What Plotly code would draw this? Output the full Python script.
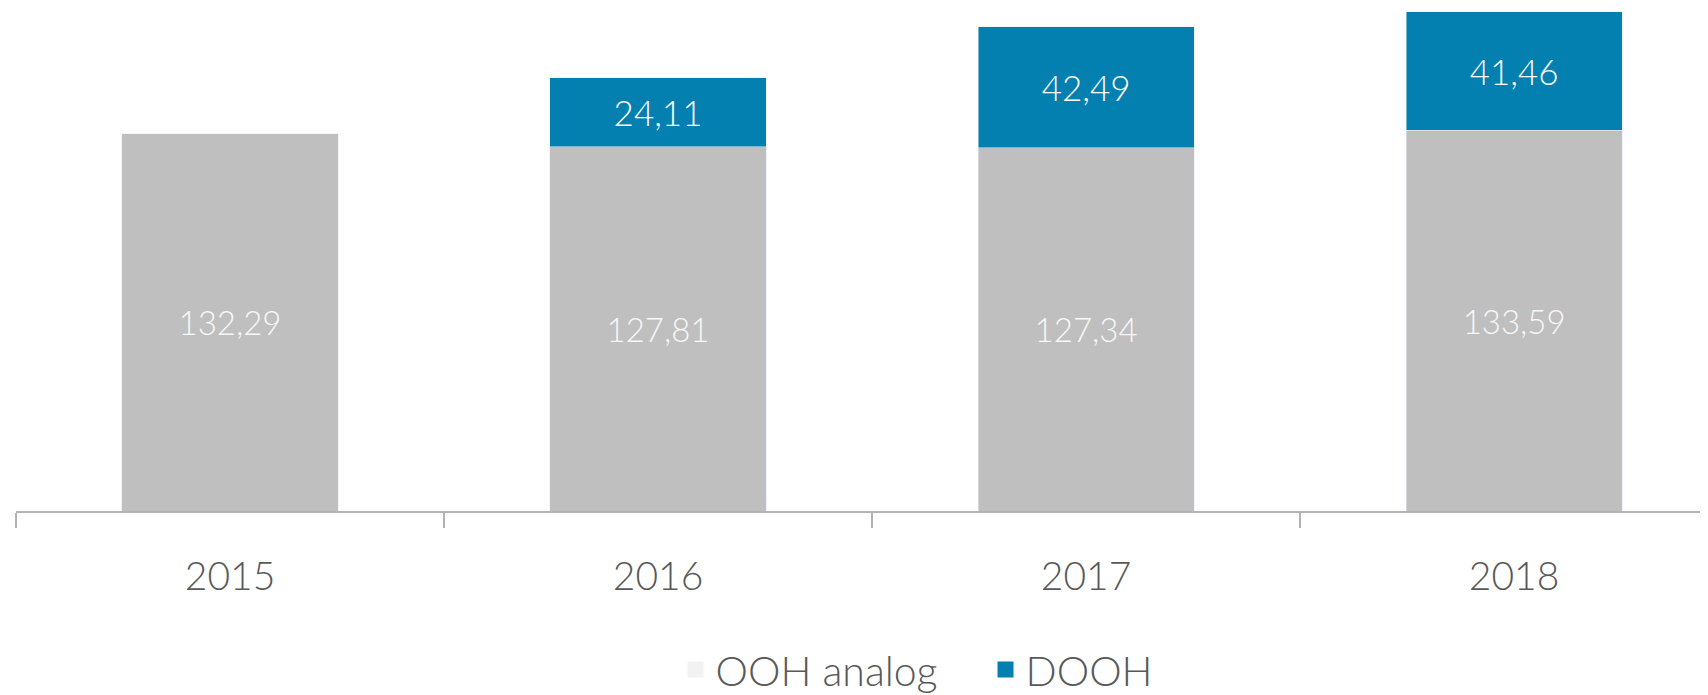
import plotly.graph_objects as go

years = ["2015", "2016", "2017", "2018"]
ooh_analog = [132.29, 127.81, 127.34, 133.59]
dooh = [None, 24.11, 42.49, 41.46]
series_names = ["OOH analog", "DOOH"]

GRAY = "#bfbfbf"
BLUE = "#0380b0"
LEGEND_GRAY = "#f2f2f2"
TEXT = "#595959"
FONT = "Lato, Open Sans, sans-serif"
W = 300

fig = go.Figure()
fig.add_trace(go.Bar(
    x=years, y=ooh_analog, name=series_names[0], marker_color=GRAY,
    width=0.505, texttemplate="%{y:.2f}", textposition="inside",
    insidetextanchor="middle", textangle=0,
    textfont=dict(color="#f7f7f7", size=33, family=FONT, weight=W),
    showlegend=False,
))
fig.add_trace(go.Bar(
    x=years, y=dooh, name=series_names[1], marker_color=BLUE,
    width=0.505, texttemplate="%{y:.2f}", textposition="inside",
    insidetextanchor="middle", textangle=0,
    textfont=dict(color="#ffffff", size=35, family=FONT, weight=W),
    showlegend=False,
))
# legend entries (legend swatch for OOH analog is lighter than its bars in the original)
fig.add_trace(go.Scatter(x=[None], y=[None], mode="markers", name=series_names[0],
                         marker=dict(symbol="square", size=16, color=LEGEND_GRAY)))
fig.add_trace(go.Scatter(x=[None], y=[None], mode="markers", name=series_names[1],
                         marker=dict(symbol="square", size=16, color=BLUE)))

fig.update_layout(
    width=1700, height=687,
    margin=dict(l=8, r=0, t=0, b=184, autoexpand=False),
    barmode="stack",
    separators=",.",
    paper_bgcolor="white", plot_bgcolor="white",
    font=dict(family=FONT, color=TEXT, weight=W),
    uniformtext=dict(mode=False),
    legend=dict(
        orientation="h", x=0.573, xanchor="center", y=-0.316, yanchor="middle",
        font=dict(size=41, color=TEXT, family=FONT, weight=W), itemsizing="trace",
        traceorder="normal", itemwidth=30, entrywidth=265,
    ),
)
fig.update_xaxes(
    type="category", range=[-0.5, 3.453],
    showline=True, linecolor="#b3b3b3", linewidth=2,
    ticks="outside", tickson="boundaries", ticklen=15, tickwidth=2, tickcolor="#b3b3b3",
    tickfont=dict(size=39, color=TEXT, family=FONT, weight=W), ticklabelstandoff=30,
    showgrid=False, zeroline=False, fixedrange=True, automargin=False,
)
fig.update_yaxes(
    range=[0, 176.4], visible=False, showgrid=False, zeroline=False,
)

fig.write_html("out.html")
